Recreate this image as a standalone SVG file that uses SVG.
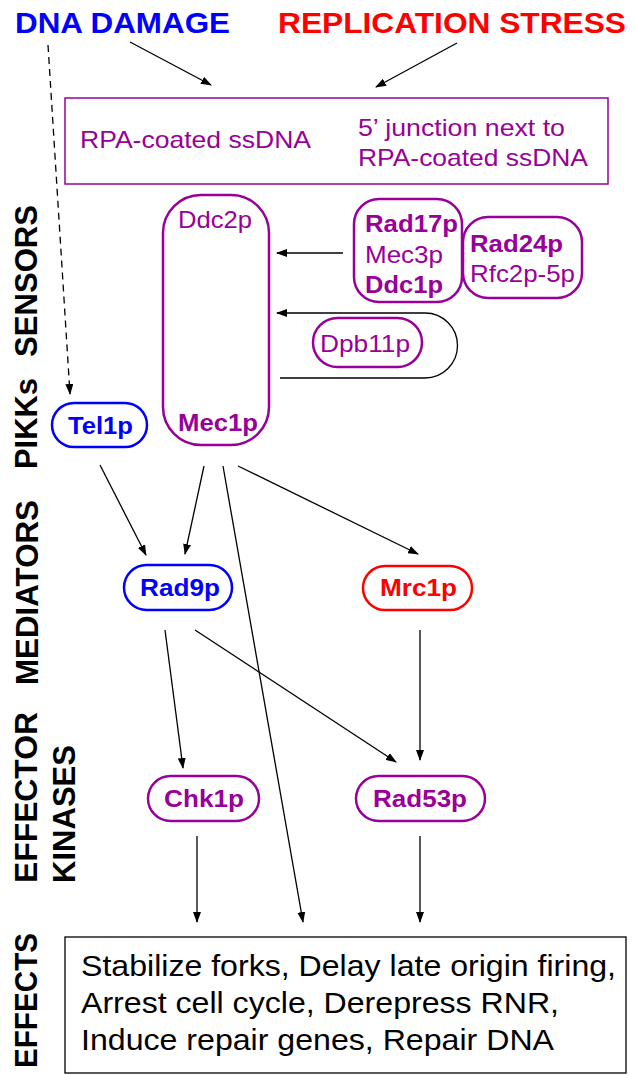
<svg xmlns="http://www.w3.org/2000/svg" width="636" height="1075" viewBox="0 0 636 1075">
<defs>
<style>
.hdr{font-family:"Liberation Sans",Arial,sans-serif;font-weight:bold;font-size:30px}
.lbl{font-family:"Liberation Sans",Arial,sans-serif;font-weight:bold;font-size:31px;fill:#000}
.p{font-family:"Liberation Sans",Arial,sans-serif;font-size:24px;fill:#990099}
.pb{font-family:"Liberation Sans",Arial,sans-serif;font-size:24px;font-weight:bold;fill:#990099}
.bb{font-family:"Liberation Sans",Arial,sans-serif;font-size:24px;font-weight:bold;fill:#0000ff}
.rb{font-family:"Liberation Sans",Arial,sans-serif;font-size:24px;font-weight:bold;fill:#ff0000}
.eff{font-family:"Liberation Sans",Arial,sans-serif;font-size:30px;fill:#000}
.np{fill:#fff;stroke:#990099;stroke-width:2.5}
.nb{fill:#fff;stroke:#0000ff;stroke-width:2.5}
.nr{fill:#fff;stroke:#ff0000;stroke-width:2.5}
.c{fill:none;stroke:#000;stroke-width:1.3;marker-end:url(#ah)}
</style>
<marker id="ah" markerWidth="11" markerHeight="8" refX="10" refY="4" orient="auto" markerUnits="userSpaceOnUse">
<path d="M0,0 L11,4 L0,8 Z" fill="#000"/>
</marker>
</defs>

<text class="hdr" x="15" y="33" fill="#0000ff" textLength="215" lengthAdjust="spacingAndGlyphs">DNA DAMAGE</text>
<text class="hdr" x="278" y="33" fill="#ff0000" textLength="348" lengthAdjust="spacingAndGlyphs">REPLICATION STRESS</text>

<g id="labels">
<text class="lbl" transform="translate(37,357) rotate(-90)" textLength="152" lengthAdjust="spacingAndGlyphs">SENSORS</text>
<text class="lbl" transform="translate(37,469) rotate(-90)" textLength="91" lengthAdjust="spacingAndGlyphs">PIKKs</text>
<text class="lbl" transform="translate(38,685) rotate(-90)" textLength="185" lengthAdjust="spacingAndGlyphs">MEDIATORS</text>
<text class="lbl" transform="translate(37,883) rotate(-90)" textLength="171" lengthAdjust="spacingAndGlyphs">EFFECTOR</text>
<text class="lbl" transform="translate(75,883) rotate(-90)" textLength="138" lengthAdjust="spacingAndGlyphs">KINASES</text>
<text class="lbl" transform="translate(37,1068) rotate(-90)" textLength="135" lengthAdjust="spacingAndGlyphs">EFFECTS</text>
</g>

<g id="ssdna">
<rect x="65" y="98" width="543" height="86" fill="#fff" stroke="#990099" stroke-width="1.5"/>
<text class="p" x="80" y="148" font-size="25" textLength="231" lengthAdjust="spacingAndGlyphs">RPA-coated ssDNA</text>
<text class="p" x="358" y="136" font-size="25" textLength="207" lengthAdjust="spacingAndGlyphs">5’ junction next to</text>
<text class="p" x="358" y="166" font-size="25" textLength="230" lengthAdjust="spacingAndGlyphs">RPA-coated ssDNA</text>
</g>

<g id="mec1">
<rect class="np" x="163" y="195" width="106" height="250" rx="38"/>
<text class="p" x="178" y="228" textLength="74" lengthAdjust="spacingAndGlyphs">Ddc2p</text>
<text class="pb" x="178" y="431" textLength="80" lengthAdjust="spacingAndGlyphs">Mec1p</text>
</g>

<g id="rad17">
<rect class="np" x="354" y="199" width="108" height="103" rx="25"/>
<text class="pb" x="365" y="232" textLength="93" lengthAdjust="spacingAndGlyphs">Rad17p</text>
<text class="p" x="365" y="263" textLength="78" lengthAdjust="spacingAndGlyphs">Mec3p</text>
<text class="pb" x="365" y="293" textLength="78" lengthAdjust="spacingAndGlyphs">Ddc1p</text>
</g>

<g id="rad24">
<rect class="np" x="463" y="217" width="119" height="81" rx="25"/>
<text class="pb" x="470" y="252" textLength="93" lengthAdjust="spacingAndGlyphs">Rad24p</text>
<text class="p" x="470" y="282" textLength="105" lengthAdjust="spacingAndGlyphs">Rfc2p-5p</text>
</g>

<g id="dpb11">
<rect class="np" x="313" y="318" width="109" height="49" rx="24.5"/>
<text class="p" x="320" y="352" textLength="90" lengthAdjust="spacingAndGlyphs">Dpb11p</text>
</g>

<g id="tel1">
<rect class="nb" x="52" y="403" width="95" height="44" rx="22"/>
<text class="bb" x="100.5" y="434" text-anchor="middle" textLength="65" lengthAdjust="spacingAndGlyphs">Tel1p</text>
</g>

<g id="rad9">
<rect class="nb" x="124" y="565" width="108" height="45" rx="22.5"/>
<text class="bb" x="180" y="596" text-anchor="middle" textLength="80" lengthAdjust="spacingAndGlyphs">Rad9p</text>
</g>

<g id="mrc1">
<rect class="nr" x="363" y="566" width="109" height="44" rx="22"/>
<text class="rb" x="418.5" y="596" text-anchor="middle" textLength="77" lengthAdjust="spacingAndGlyphs">Mrc1p</text>
</g>

<g id="chk1">
<rect class="np" x="148" y="776" width="111" height="45" rx="22.5"/>
<text class="pb" x="204" y="807" text-anchor="middle" textLength="80" lengthAdjust="spacingAndGlyphs">Chk1p</text>
</g>

<g id="rad53">
<rect class="np" x="356" y="776" width="129" height="45" rx="22.5"/>
<text class="pb" x="420" y="807" text-anchor="middle" textLength="94" lengthAdjust="spacingAndGlyphs">Rad53p</text>
</g>

<g id="effects">
<rect x="65" y="937" width="561" height="136" fill="#fff" stroke="#000" stroke-width="1.3"/>
<text class="eff" x="81" y="976" textLength="535" lengthAdjust="spacingAndGlyphs">Stabilize forks, Delay late origin firing,</text>
<text class="eff" x="81" y="1013" textLength="478" lengthAdjust="spacingAndGlyphs">Arrest cell cycle, Derepress RNR,</text>
<text class="eff" x="81" y="1050" textLength="473" lengthAdjust="spacingAndGlyphs">Induce repair genes, Repair DNA</text>
</g>

<g id="connectors">
<path class="c" d="M130,42 L211,85"/>
<path class="c" d="M457,43 L376,87"/>
<path class="c" d="M48,45 L70,394" stroke-dasharray="7,5"/>
<path class="c" d="M343,253 L277,253"/>
<path class="c" d="M280,378 H425 A32.5,32.5 0 0 0 425,313 H277"/>
<path class="c" d="M100,465 L146,555"/>
<path class="c" d="M204,466 L185,554"/>
<path class="c" d="M223,466 L303,922"/>
<path class="c" d="M238,466 L418,554"/>
<path class="c" d="M165,630 L183,768"/>
<path class="c" d="M195,630 L396,762"/>
<path class="c" d="M420,630 L420,760"/>
<path class="c" d="M197,836 L197,922"/>
<path class="c" d="M420,836 L420,922"/>
</g>
</svg>
